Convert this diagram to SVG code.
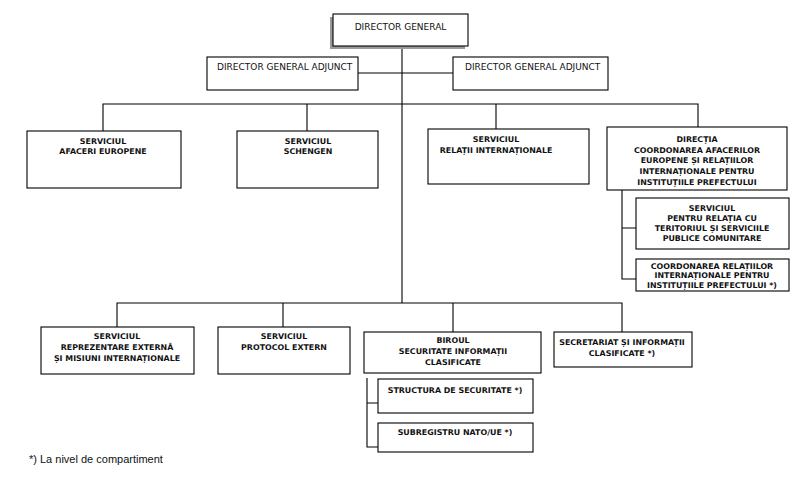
<svg xmlns="http://www.w3.org/2000/svg" width="800" height="482" viewBox="0 0 800 482">
<style>
.box{fill:#fff;stroke:#000;stroke-width:1.1}
.sh{fill:#9a9a9a}
.t{font-family:"DejaVu Sans",Verdana,sans-serif;font-size:7.9px;font-weight:bold;fill:#111;text-anchor:middle}
.r{font-family:"DejaVu Sans",Tahoma,sans-serif;font-size:9px;fill:#111}
.c{fill:none;stroke:#000;stroke-width:1.1}
.f{font-family:"Liberation Sans",Arial,sans-serif;font-size:11px;fill:#111}
</style>
<rect width="800" height="482" fill="#fff"/>
<g id="connectors">
<path class="c" d="M402 46V303"/>
<path class="c" d="M358 73H453"/>
<path class="c" d="M103 131V104H698V127M307 104V131M496 104V129"/>
<path class="c" d="M117 327V303H622V332M283 303V327M453 303V332"/>
<path class="c" d="M622 190V279H636M622 228H636"/>
<path class="c" d="M367 378V447H378M367 403H378"/>
</g>
<g id="director-general">
<rect class="sh" x="330" y="17" width="135" height="32"/>
<rect class="box" x="333" y="14" width="135" height="32"/>
<text class="r" x="400.5" y="30" text-anchor="middle" font-size="9.4">DIRECTOR GENERAL</text>
</g>
<g id="adjunct-1">
<rect class="box" x="207" y="57" width="151" height="33"/>
<text class="r" x="217" y="70">DIRECTOR GENERAL ADJUNCT</text>
</g>
<g id="adjunct-2">
<rect class="box" x="453" y="57" width="155" height="33"/>
<text class="r" x="465" y="70">DIRECTOR GENERAL ADJUNCT</text>
</g>
<g id="afaceri-europene">
<rect class="box" x="27" y="131" width="154" height="57"/>
<text class="t" x="103" y="144">SERVICIUL</text>
<text class="t" x="103" y="154">AFACERI EUROPENE</text>
</g>
<g id="schengen">
<rect class="box" x="237" y="131" width="141" height="57"/>
<text class="t" x="308" y="144">SERVICIUL</text>
<text class="t" x="308" y="154">SCHENGEN</text>
</g>
<g id="relatii-internationale">
<rect class="box" x="428" y="129" width="161" height="55"/>
<text class="t" x="496" y="142">SERVICIUL</text>
<text class="t" x="496" y="153">RELAȚII INTERNAȚIONALE</text>
</g>
<g id="directia">
<rect class="box" x="607" y="127" width="180" height="63"/>
<text class="t" x="697" y="142">DIRECȚIA</text>
<text class="t" x="697" y="152.7">COORDONAREA AFACERILOR</text>
<text class="t" x="697" y="163.4">EUROPENE ȘI RELAȚIILOR</text>
<text class="t" x="697" y="174.1">INTERNAȚIONALE PENTRU</text>
<text class="t" x="697" y="184.8">INSTITUȚIILE PREFECTULUI</text>
</g>
<g id="relatia-teritoriul">
<rect class="box" x="636" y="198" width="153" height="51"/>
<text class="t" x="712" y="211">SERVICIUL</text>
<text class="t" x="712" y="221">PENTRU RELAȚIA CU</text>
<text class="t" x="712" y="231">TERITORIUL ȘI SERVICIILE</text>
<text class="t" x="712" y="241">PUBLICE COMUNITARE</text>
</g>
<g id="coordonarea-relatiilor">
<rect class="box" x="636" y="259" width="153" height="32"/>
<text class="t" x="712" y="269">COORDONAREA RELAȚIILOR</text>
<text class="t" x="712" y="278">INTERNAȚIONALE PENTRU</text>
<text class="t" x="712" y="287.5">INSTITUȚIILE PREFECTULUI *)</text>
</g>
<g id="reprezentare-externa">
<rect class="box" x="41" y="327" width="153" height="47"/>
<text class="t" x="117" y="339">SERVICIUL</text>
<text class="t" x="117" y="350">REPREZENTARE EXTERNĂ</text>
<text class="t" x="117" y="360.5">ȘI MISIUNI INTERNAȚIONALE</text>
</g>
<g id="protocol-extern">
<rect class="box" x="218" y="327" width="132" height="47"/>
<text class="t" x="284" y="339">SERVICIUL</text>
<text class="t" x="284" y="350">PROTOCOL EXTERN</text>
</g>
<g id="biroul-securitate">
<rect class="box" x="364" y="332" width="177" height="41"/>
<text class="t" x="453" y="343">BIROUL</text>
<text class="t" x="453" y="354">SECURITATE INFORMAȚII</text>
<text class="t" x="453" y="365">CLASIFICATE</text>
</g>
<g id="secretariat">
<rect class="box" x="554" y="332" width="138" height="35"/>
<text class="t" x="622" y="345">SECRETARIAT ȘI INFORMAȚII</text>
<text class="t" x="622" y="355.5">CLASIFICATE *)</text>
</g>
<g id="structura-securitate">
<rect class="box" x="378" y="379" width="155" height="34"/>
<text class="t" x="455" y="393">STRUCTURA DE SECURITATE *)</text>
</g>
<g id="subregistru">
<rect class="box" x="378" y="423" width="155" height="29"/>
<text class="t" x="455" y="435">SUBREGISTRU NATO/UE *)</text>
</g>
<text class="f" x="29" y="463">*) La nivel de compartiment</text>
</svg>
